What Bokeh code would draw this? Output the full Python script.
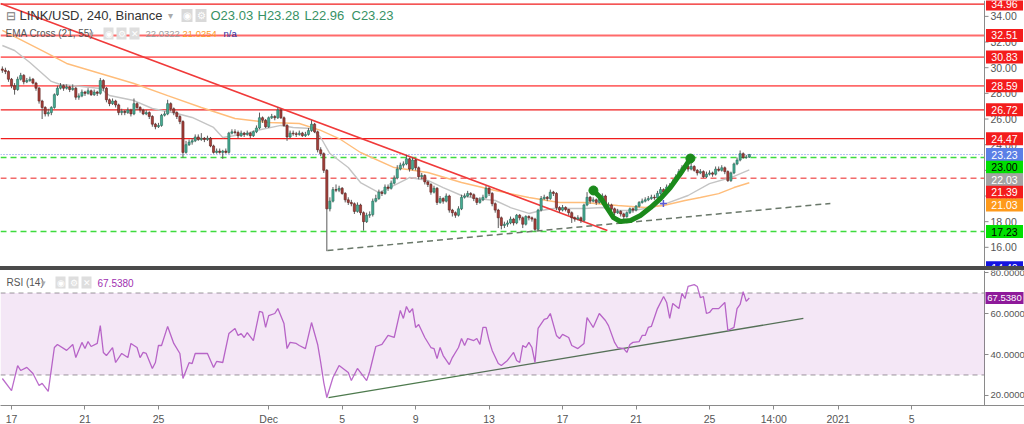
import numpy as np
from bokeh.plotting import figure
from bokeh.layouts import column
from bokeh.models import (ColumnDataSource, Range1d, FixedTicker, Label, Div, BoxAnnotation)
from bokeh.core.properties import value
from bokeh.embed import file_html
from bokeh.resources import INLINE

# ---------------- data (LINK/USD, 4h candles, Binance) ----------------
first_open = 29.9
closes = [29.8,29.7,29.1,28.6,28.3,29.1,29.4,28.9,29.0,29.1,
          28.8,28.4,27.4,26.9,26.4,26.5,26.9,27.9,28.4,28.6,
          28.4,28.5,28.3,28.4,27.7,27.8,28.1,28.0,28.2,27.9,
          28.1,28.0,29.0,28.4,27.5,27.2,27.4,27.1,26.5,26.6,
          26.5,26.7,26.4,27.2,26.9,26.7,26.4,26.5,26.2,25.6,
          25.4,25.5,26.3,26.4,27.2,26.8,26.5,26.2,25.8,23.4,
          24.0,24.2,24.3,24.6,24.4,24.5,24.4,24.5,23.9,23.4,
          23.5,23.4,23.5,23.4,24.9,25.0,24.95,24.7,24.9,24.8,
          24.9,24.7,25.0,25.3,26.1,25.9,25.4,26.1,26.2,26.1,
          26.7,26.1,25.5,24.6,24.9,24.85,24.8,24.9,24.7,24.8,
          25.1,25.6,25.0,23.6,23.3,22.0,19.0,19.6,20.5,20.45,
          20.6,20.2,19.7,19.5,19.4,18.8,19.3,18.7,18.0,18.5,
          18.55,19.6,19.8,20.3,20.2,20.7,20.6,21.0,21.4,22.1,
          22.4,22.5,22.9,22.1,22.8,22.2,21.5,21.6,21.1,20.9,
          20.3,20.6,19.5,19.8,19.6,20.0,18.9,18.7,18.5,19.0,
          19.9,20.0,20.2,20.1,19.8,19.5,19.7,19.9,20.6,20.2,
          19.4,18.9,18.3,17.7,17.8,17.9,18.2,17.9,18.5,18.3,
          17.8,18.4,18.3,18.2,17.4,18.9,19.8,19.9,19.8,20.3,
          20.2,19.1,18.9,19.1,18.95,18.7,18.3,18.2,18.3,18.1,
          19.3,19.9,19.6,19.7,19.5,19.8,20.0,19.2,19.3,19.0,
          18.7,18.8,18.6,18.4,18.7,19.0,18.9,19.2,19.5,19.6,
          19.7,19.8,19.9,19.85,20.2,20.5,20.3,20.7,20.8,21.1,
          21.5,21.9,22.2,22.3,22.1,22.3,22.0,21.8,21.9,21.5,
          21.7,21.8,21.7,22.1,22.0,22.2,21.9,21.2,21.8,22.5,
          22.8,23.3,23.0,23.03,23.23]
highs = [30.1,30.0,29.8,29.2,28.8,29.3,29.6,29.5,29.2,29.3,
         29.2,28.9,28.5,27.5,27.0,26.8,27.0,28.0,28.6,28.8,
         28.7,28.7,28.6,28.7,28.5,28.0,28.3,28.2,28.4,28.3,
         28.3,28.2,29.2,29.1,28.5,27.6,27.6,27.5,27.2,26.8,
         26.7,26.9,26.8,27.6,27.3,27.0,26.8,26.7,26.6,26.3,
         25.7,25.7,26.4,26.6,27.5,27.3,26.9,26.6,26.3,25.9,
         24.3,24.4,24.5,24.8,24.8,24.9,24.6,24.7,24.6,24.0,
         23.7,23.7,23.6,23.7,25.0,25.2,25.2,25.1,25.1,25.0,
         25.1,25.0,25.1,25.5,26.5,26.2,26.0,26.2,26.4,26.3,
         26.9,26.8,26.2,25.6,25.1,25.1,25.0,25.1,25.0,25.0,
         25.3,25.9,25.7,25.1,23.8,23.4,22.1,19.9,20.7,20.9,
         20.8,20.7,20.3,19.9,19.7,19.5,19.5,19.4,18.8,18.7,
         18.8,19.8,20.1,20.5,20.4,20.9,20.9,21.2,21.6,22.4,
         22.6,22.7,23.2,23.0,23.0,22.9,22.3,21.8,21.7,21.2,
         21.0,20.8,20.7,20.0,19.9,20.2,20.1,19.0,18.8,19.2,
         20.1,20.2,20.4,20.3,20.2,19.9,19.9,20.1,20.8,20.7,
         20.3,19.5,19.0,18.4,18.0,18.1,18.4,18.3,18.6,18.6,
         18.4,18.5,18.5,18.4,18.3,19.0,20.0,20.1,20.0,20.5,
         20.4,20.3,19.2,19.3,19.2,19.0,18.8,18.4,18.5,18.4,
         19.4,20.3,20.0,19.9,19.8,20.0,20.2,20.1,19.5,19.4,
         19.1,19.0,18.9,18.7,18.8,19.1,19.1,19.3,19.6,19.8,
         19.9,20.0,20.1,20.1,20.4,20.7,20.6,20.9,21.0,21.3,
         21.7,22.1,22.4,22.5,22.4,22.8,22.4,22.1,22.1,22.0,
         21.9,22.0,21.9,22.3,22.3,22.4,22.3,22.0,21.9,22.6,
         23.0,23.55,23.4,23.2,23.28]
lows = [29.6,29.5,28.9,28.4,27.9,28.2,29.0,28.7,28.8,28.9,
        28.7,28.2,27.2,26.0,26.2,26.2,26.3,26.8,27.8,28.3,
        28.2,28.3,28.1,28.2,27.5,27.5,27.7,27.8,27.9,27.8,
        27.8,27.8,27.9,28.2,27.3,27.0,27.1,26.9,26.3,26.3,
        26.3,26.4,26.2,26.3,26.7,26.5,26.3,26.3,26.0,25.4,
        25.2,25.3,25.4,26.2,26.3,26.6,26.3,26.0,25.6,23.0,
        23.3,23.9,24.0,24.2,24.3,24.3,24.2,24.3,23.8,23.3,
        23.3,23.3,22.9,23.3,23.3,24.8,24.8,24.5,24.6,24.6,
        24.7,24.5,24.6,24.9,25.2,25.7,25.3,25.3,26.0,25.9,
        26.0,26.0,25.4,24.3,24.5,24.7,24.6,24.7,24.6,24.6,
        24.7,25.0,24.9,23.4,23.1,21.8,15.7,18.8,19.5,20.3,
        20.3,20.1,19.5,19.3,19.2,18.6,18.7,18.5,17.3,17.9,
        18.3,18.4,19.5,19.7,20.0,20.1,20.4,20.5,20.9,21.3,
        22.0,22.2,22.4,21.9,22.0,22.0,21.3,21.3,20.9,20.7,
        20.1,20.2,19.3,19.4,19.4,19.5,18.7,18.4,18.3,18.4,
        18.9,19.8,19.9,19.9,19.6,19.3,19.4,19.6,19.8,20.0,
        19.2,18.7,17.5,17.4,17.5,17.6,17.8,17.7,17.8,18.1,
        17.5,17.7,18.1,18.0,17.23,17.3,18.8,19.7,19.6,19.7,
        20.0,18.9,18.7,18.8,18.8,18.5,17.9,18.0,18.1,17.9,
        18.0,19.2,19.4,19.5,19.3,19.4,19.7,19.0,19.1,18.8,
        18.5,18.6,18.4,18.2,18.3,18.6,18.7,18.8,19.1,19.4,
        19.5,19.6,19.7,19.7,19.8,20.1,20.1,20.2,20.6,20.7,
        21.0,21.4,21.8,22.1,21.9,22.0,21.9,21.6,21.7,21.4,
        21.4,21.6,21.5,21.6,21.9,21.9,21.7,21.1,21.1,21.7,
        22.4,22.7,22.9,22.9,22.96]

# EMA Cross (21, 55) lines, read as vertices (candle index, value)
ema21_idx = [0,4,9,16,19,26,32,35,43,49,57,62,69,72,80,83,91,95,101,104,
             107,113,117,123,128,133,139,144,150,155,161,166,172,176,180,186,190,196,201,206,
             212,217,224,231,238,244]
ema21_val = [31.73,31.34,30.41,28.93,28.69,28.53,28.38,27.83,27.44,26.82,26.43,26.12,25.34,24.56,24.87,25.11,25.50,25.34,25.26,24.56,
             23.31,22.22,21.05,20.27,20.82,21.44,21.21,20.66,20.04,19.81,19.65,19.10,18.64,18.87,19.03,19.03,19.03,19.10,18.87,18.87,
             19.10,19.42,20.04,20.97,21.44,22.03]
ema55_idx = [0,13,21,32,43,54,65,76,87,97,104,110,117,128,139,150,161,172,182,190,201,210,216,223,228,234,239,244]
ema55_val = [32.90,31.34,30.33,29.55,28.77,27.83,26.90,26.04,25.73,25.65,25.11,24.48,23.39,22.22,21.83,21.05,20.43,19.88,19.49,19.49,
             19.26,19.10,19.26,19.65,19.88,20.19,20.66,21.03]

# RSI (14) vertices (candle index, value)
rsi_idx = [0,3,5,6,8,10,12,13,15,17,18,21,23,24,26,27,28,29,31,32,
           33,34,36,37,39,41,42,44,45,46,47,49,50,51,52,54,56,58,59,61,
           62,63,65,67,69,70,72,74,76,77,78,79,80,82,84,85,86,87,89,90,
           92,93,94,96,97,99,101,103,104,105,106,108,110,113,114,116,119,120,122,124,
           126,128,130,131,132,133,134,135,136,138,140,141,142,143,144,146,147,149,150,151,
           152,154,155,156,157,158,159,160,162,163,165,167,168,169,170,171,172,173,174,175,
           177,178,179,181,182,183,185,186,188,190,191,192,193,195,197,198,200,201,203,204,
           205,206,208,209,210,211,212,214,216,217,218,219,221,222,223,224,226,227,228,229,
           230,231,232,234,236,237,239,240,241,242,243,244]
rsi_val = [28.3,22.4,34.6,32.2,33.7,30.7,24.9,25.9,22.0,43.4,44.9,42.0,44.9,38.5,45.9,42.9,46.3,43.9,45.4,54.1,
           41.0,39.5,43.4,36.1,40.5,38.5,45.4,43.4,38.5,41.0,40.5,33.2,36.1,44.4,44.4,53.7,45.4,40.5,28.3,36.0,
           35.6,40.5,40.5,40.5,33.7,36.6,36.1,50.2,52.7,49.3,50.2,48.3,50.7,46.8,61.0,60.5,53.2,59.0,60.0,62.4,
           55.1,42.9,45.9,45.4,44.4,42.9,55.6,44.9,36.1,26.3,19.0,28.8,34.6,31.2,27.3,33.2,27.3,31.7,43.9,44.9,
           49.3,48.3,61.5,57.6,63.4,60.5,62.4,53.2,54.6,48.3,43.4,42.9,38.0,43.4,39.5,35.1,38.5,43.4,47.8,44.4,
           47.8,46.8,47.8,44.9,53.2,53.2,46.8,42.0,35.6,34.6,37.1,41.0,37.1,36.1,44.4,43.4,45.9,43.4,36.1,52.7,
           57.1,57.6,60.0,49.3,47.8,49.8,48.3,44.4,42.9,45.4,58.0,55.6,53.2,60.0,56.6,54.1,45.9,43.4,42.9,41.0,
           44.9,45.9,46.3,49.3,49.3,53.2,53.7,62.4,68.3,65.4,57.6,64.9,62.4,69.8,67.3,73.2,74.1,73.2,67.8,68.3,
           60.0,60.5,62.4,62.4,65.4,51.7,53.2,62.4,64.4,70.7,65.9,67.538]

# drawings (x = days since Nov 17 00:00, y = price)
res_levels = [34.96, 32.51, 30.83, 28.59, 26.72, 24.47]
green_levels = [23.00, 17.23]
red_dash_level = 21.39
bottom_level = 14.40
down_trend_t = [-0.6, 32.44]
down_trend_p = [35.0, 17.31]
support_t = [17.2, 44.58]
support_p = [15.75, 19.42]
cup_t = [31.68, 32.06, 32.44, 32.77, 33.15, 33.70, 34.24, 34.79, 35.33, 35.87, 36.42, 36.96]
cup_p = [20.43, 19.88, 19.03, 18.32, 18.01, 18.09, 18.48, 19.10, 19.80, 20.66, 21.75, 22.92]
cross_t = [35.49]
cross_p = [19.42]
rsi_trend_t = [17.26, 43.11]
rsi_trend_v = [19.0, 57.6]

tick_days = [0, 4, 8, 14, 18, 22, 26, 30, 34, 38, 41.5, 45, 49]
tick_labels = ["17", "21", "25", "Dec", "5", "9", "13", "17", "21", "25", "14:00", "2021", "5"]
price_ticks = [16, 18, 20, 22, 24, 26, 28, 30, 32, 34]
rsi_ticks = [20, 40, 60, 80]

# ---------------- layout constants ----------------
FONT = "Liberation Sans"
W = 1024
AX_PX = 984                      # pixel of the price-scale line
X0 = -0.6
PX_PER_DAY = 18.368
XA = X0 + AX_PX / PX_PER_DAY     # scale line position (days)
X_END = X0 + W / PX_PER_DAY
P_TOP, P_BOT = 35.238, 14.505
R_TOP, R_BOT = 80.98, 15.12
PH = 266
RH = 135
CANDLE_DAYS = 4 / 24.0
START_DAY = -0.5
AXIS_COL = "#8a8a8a"
TICK_TXT = "#555555"

def day_of(idx):
    return START_DAY + np.asarray(idx, dtype=float) * CANDLE_DAYS

def px_days(px):
    return px / PX_PER_DAY

t = day_of(range(len(closes)))
opens = [first_open] + closes[:-1]
o_arr, c_arr = np.array(opens), np.array(closes)
up = c_arr >= o_arr
src = ColumnDataSource(dict(
    t=t, h=highs, l=lows,
    top=np.maximum(o_arr, c_arr), bot=np.minimum(o_arr, c_arr),
    fill=np.where(up, "#45ab92", "#a83f3a"),
    edge=np.where(up, "#2a6d5d", "#5c221f"),
))

def hline(fig, levels, **kw):
    n = len(levels)
    fig.segment(x0=[X0] * n, x1=[XA] * n, y0=levels, y1=levels, **kw)

def scale(fig, ymin, ymax, ticks, fmt, size):
    # price-scale line, tick marks and tick labels (inside the canvas)
    fig.segment(x0=[XA], x1=[XA], y0=[ymin], y1=[ymax], line_color=AXIS_COL, line_width=1)
    n = len(ticks)
    fig.segment(x0=[XA] * n, x1=[XA + px_days(4)] * n, y0=ticks, y1=ticks, line_color=AXIS_COL, line_width=1)
    fig.text(x=[XA + px_days(6)] * n, y=ticks, text=[fmt % v for v in ticks], text_font=value(FONT),
             text_font_size=size, text_color=TICK_TXT, text_baseline="middle", text_align="left")

def tag(fig, ys, texts, bgs, fgs, size, w=37, h=13):
    cx = [XA + px_days(20)] * len(ys)
    fig.rect(x=cx, y=ys, width=w, height=h, width_units="screen", height_units="screen",
             fill_color=bgs, line_color=None)
    fig.text(x=cx, y=ys, text=texts, text_font=value(FONT), text_font_size=size, text_color=fgs,
             text_baseline="middle", text_align="center")

def txt(fig, x, y, s, size="10px", color="#444444", bg=None, pad=0):
    lab = Label(x=x, y=y, x_units="canvas", y_units="canvas", text=s, text_font=FONT,
                text_font_size=size, text_color=color, text_baseline="middle", text_align="left")
    if bg is not None:
        lab.background_fill_color = bg
        lab.padding = pad
    fig.add_layout(lab)

# ---------------- price pane ----------------
p = figure(frame_width=W, frame_height=PH, x_range=Range1d(X0, X_END), y_range=Range1d(P_BOT, P_TOP),
           output_backend="svg", toolbar_location=None, y_axis_location=None, x_axis_location=None,
           min_border_left=0, min_border_top=0, min_border_bottom=0, min_border_right=0)
p.grid.visible = False
p.outline_line_color = None

light_res = {32.51, 30.83, 28.59}
hline(p, [v for v in res_levels if v in light_res], line_color="#ff6a6a", line_width=1.8)
hline(p, [v for v in res_levels if v not in light_res], line_color="#f01c1c", line_width=1.2)
hline(p, green_levels, line_color="#3ddc3d", line_width=1.5, line_dash="6 4")
hline(p, [red_dash_level], line_color="#f26b6b", line_width=1.5, line_dash="6 4")
hline(p, [closes[-1]], line_color="#6d84e6", line_width=1, line_dash="1 2")

p.line(day_of(ema21_idx), ema21_val, line_color="#c4c4c4", line_width=1.4)
p.line(day_of(ema55_idx), ema55_val, line_color="#ffbd7a", line_width=1.4)

p.line(down_trend_t, down_trend_p, line_color="#f03a3a", line_width=1.5)
p.line(support_t, support_p, line_color="#6a786a", line_width=1.5, line_dash="6 4")

p.segment(x0="t", y0="h", x1="t", y1="l", line_color="#5a5a5a", line_width=1, source=src)
p.vbar(x="t", width=CANDLE_DAYS * 0.7, top="top", bottom="bot", fill_color="fill",
       line_color="edge", line_width=0.6, source=src)

p.line(cup_t, cup_p, line_color="#1b8a1b", line_width=5, line_cap="round", line_join="round")
p.scatter([cup_t[0], cup_t[-1]], [cup_p[0], cup_p[-1]], size=9, color="#1b8a1b")
p.scatter(cross_t, cross_p, marker="cross", size=7, line_color="#5a5ad8", line_width=1.5)

scale(p, P_BOT, P_TOP, price_ticks, "%.2f", "10.5px")

# coloured tags on the price scale (pushed apart like the original)
px_per_unit = PH / (P_TOP - P_BOT)
gap = 12.6 / px_per_unit
scale_tags = [(res_levels[0], "#f41c1c", "white"), (res_levels[1], "#f41c1c", "white"),
              (res_levels[2], "#f41c1c", "white"), (res_levels[3], "#f41c1c", "white"),
              (res_levels[4], "#f41c1c", "white"), (res_levels[5], "#f41c1c", "white"),
              (closes[-1], "#5b7fe6", "white"), (green_levels[0], "#00e000", "black"),
              (ema21_val[-1], "#a3a3a3", "white"), (red_dash_level, "#f41c1c", "white"),
              (ema55_val[-1], "#ff9a1a", "white"), (green_levels[1], "#00e000", "black"),
              (bottom_level, "#1414e0", "white")]
scale_tags.sort(key=lambda z: -z[0])
disp, prev = [], None
for v, _, _ in scale_tags:
    d = v if prev is None else min(v, prev - gap)
    disp.append(d)
    prev = d
tag(p, disp, [f"{v:.2f}" for v, _, _ in scale_tags], [b for _, b, _ in scale_tags],
    [f for _, _, f in scale_tags], "10.5px")

# header texts
txt(p, 5, 15, "\u229f", size="12px", color="#777777")
txt(p, 19, 15, "LINK/USD, 240, Binance", size="13px", color="#333333")
txt(p, 167, 15, "\u25be", size="10px", color="#aaaaaa")
txt(p, 181, 15, "\u25c9", size="10px", color="#ffffff", bg="#d9d9d9", pad=1)
txt(p, 195, 15, "\u2699", size="10px", color="#ffffff", bg="#d9d9d9", pad=1)
ohlc = [("O", opens[-1]), ("H", highs[-1]), ("L", lows[-1]), ("C", closes[-1])]
for k, (lt, v) in enumerate(ohlc):
    txt(p, 210 + 47 * k, 15, f"{lt}{v:.2f}", size="13px", color="#379164")
txt(p, 5, 33, "EMA Cross (21, 55)", size="10px", color="#555555")
txt(p, 88, 33, "\u25be", size="9px", color="#aaaaaa")
txt(p, 103, 33, "\u25c9", size="9px", color="#ffffff", bg="#dedede", pad=1)
txt(p, 116, 33, "\u2699", size="9px", color="#ffffff", bg="#dedede", pad=1)
txt(p, 129, 33, "\u2715", size="9px", color="#ffffff", bg="#dedede", pad=1)
txt(p, 145, 33, "22.0322", size="9.5px", color="#9e9e9e")
txt(p, 182, 33, "21.0254", size="9.5px", color="#ff9a1f")
txt(p, 223, 33, "n/a", size="9.5px", color="#2a2aa0")

# ---------------- separator ----------------
sep = Div(text="", width=W, height=4, margin=0,
          styles={"background-color": "#4a4a4a", "overflow": "hidden"})

# ---------------- RSI pane ----------------
r = figure(frame_width=W, frame_height=RH, x_range=p.x_range, y_range=Range1d(R_BOT, R_TOP),
           output_backend="svg", toolbar_location=None, y_axis_location=None,
           min_border_left=0, min_border_top=0, min_border_bottom=0, min_border_right=0)
r.grid.visible = False
r.outline_line_color = None
r.add_layout(BoxAnnotation(left=X0, right=XA, bottom=30, top=70, fill_color="#9c27b0",
                           fill_alpha=0.11, line_color=None))
hline(r, [70, 30], line_color="#9a9a9a", line_width=1, line_dash="5 4")
r.line(rsi_trend_t, rsi_trend_v, line_color="#4d7a4d", line_width=1.3)
r.line(day_of(rsi_idx), rsi_val, line_color="#bb6ccb", line_width=1.3)
scale(r, R_BOT, R_TOP, rsi_ticks, "%.4f", "9.5px")
tag(r, [rsi_val[-1]], [f"{rsi_val[-1]:.4f}"], ["#8e1a9a"], ["white"], "9.5px", w=38, h=12)

r.xaxis.ticker = FixedTicker(ticks=tick_days)
r.xaxis.major_label_overrides = {d: s for d, s in zip(tick_days, tick_labels)}
r.xaxis.major_label_text_font = FONT
r.xaxis.major_label_text_color = TICK_TXT
r.xaxis.major_label_text_font_size = "10.5px"
r.xaxis.axis_line_color = AXIS_COL
r.xaxis.major_tick_line_color = AXIS_COL
r.xaxis.major_tick_out = 4
r.xaxis.major_tick_in = 0
r.xaxis.minor_tick_line_color = None
r.xaxis.major_label_standoff = 3

txt(r, 6, 12, "RSI (14)", size="10px", color="#555555")
txt(r, 40, 12, "\u25be", size="9px", color="#aaaaaa")
txt(r, 55, 12, "\u25c9", size="9px", color="#ffffff", bg="#dedede", pad=1)
txt(r, 68, 12, "\u2699", size="9px", color="#ffffff", bg="#dedede", pad=1)
txt(r, 81, 12, "\u2715", size="9px", color="#ffffff", bg="#dedede", pad=1)
txt(r, 97, 12, f"{rsi_val[-1]:.4f}", size="10px", color="#a030b0")

layout = column(p, sep, r, spacing=0)
open("out.html", "w").write(file_html(layout, INLINE))
